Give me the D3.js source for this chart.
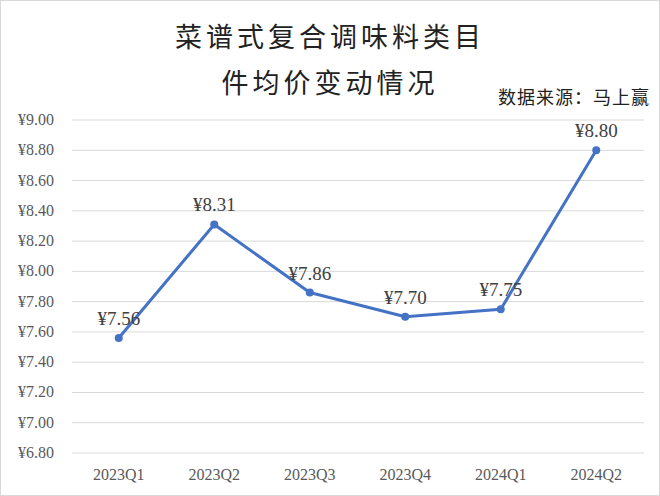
<!DOCTYPE html>
<html><head><meta charset="utf-8">
<script src="https://cdn.jsdelivr.net/npm/d3@7"></script>
<style>
body{margin:0;background:#fff}
svg{display:block;font-family:"Liberation Serif","Noto Sans CJK SC",serif}
</style></head>
<body><svg id="c" width="660" height="496"></svg>
<script>
'use strict';

const QUARTERS=['2023Q1','2023Q2','2023Q3','2023Q4','2024Q1','2024Q2'];
const PRICES=[7.56,8.31,7.86,7.70,7.75,8.80];
const Y_TICKS=[6.8,7.0,7.2,7.4,7.6,7.8,8.0,8.2,8.4,8.6,8.8,9.0];

const svg=d3.select('#c');
svg.append('rect').attr('x',0.5).attr('y',0.5).attr('width',659).attr('height',495)
  .attr('fill','#fff').attr('stroke','#d9d9d9');

const x=d3.scaleBand().domain(QUARTERS).range([71,644]);
const y=d3.scaleLinear().domain([6.8,9.0]).range([453,120]);
const fmt=v=>'¥'+v.toFixed(2);

// grid + y labels
svg.append('g').selectAll('line').data(Y_TICKS).join('line')
  .attr('x1',72).attr('x2',644).attr('y1',d=>y(d)).attr('y2',d=>y(d))
  .attr('stroke','#d9d9d9').attr('stroke-width',1);
svg.append('g').selectAll('text').data(Y_TICKS).join('text')
  .attr('x',54).attr('y',d=>y(d)+5).attr('text-anchor','end')
  .attr('font-size',16).attr('fill','#595959').text(fmt);

// x labels
svg.append('g').selectAll('text').data(QUARTERS).join('text')
  .attr('x',d=>x(d)+x.bandwidth()/2).attr('y',480).attr('text-anchor','middle')
  .attr('font-size',16).attr('fill','#595959').text(d=>d);

// line
const pts=QUARTERS.map((q,i)=>[x(q)+x.bandwidth()/2,y(PRICES[i])]);
svg.append('path').attr('d',d3.line()(pts)).attr('fill','none')
  .attr('stroke','#4472c4').attr('stroke-width',3).attr('stroke-linejoin','round');
svg.append('g').selectAll('circle').data(pts).join('circle')
  .attr('cx',d=>d[0]).attr('cy',d=>d[1]).attr('r',4).attr('fill','#4472c4');
svg.append('g').selectAll('text').data(pts).join('text')
  .attr('x',d=>d[0]).attr('y',d=>d[1]-13).attr('text-anchor','middle')
  .attr('font-size',19).attr('fill','#404040').text((d,i)=>fmt(PRICES[i]));

// titles
svg.append('text').attr('x',330).attr('y',47).attr('text-anchor','middle')
  .attr('font-size',27).attr('fill','#222').attr('letter-spacing',4).text('菜谱式复合调味料类目');
svg.append('text').attr('x',330).attr('y',93).attr('text-anchor','middle')
  .attr('font-size',27).attr('fill','#222').attr('letter-spacing',4).text('件均价变动情况');
svg.append('text').attr('x',650).attr('y',104).attr('text-anchor','end')
  .attr('font-size',18).attr('fill','#222').attr('letter-spacing',1).text('数据来源：马上赢');
</script></body></html>
